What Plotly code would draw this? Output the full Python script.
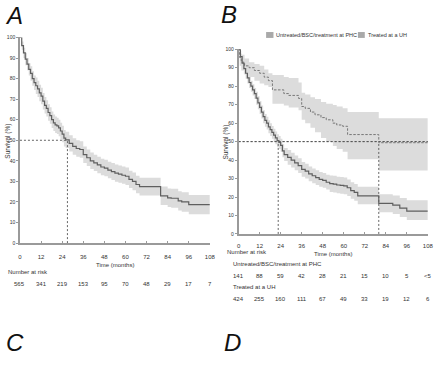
import plotly.graph_objects as go

# ---------------- data ----------------
tick_months = [0, 12, 24, 36, 48, 60, 72, 84, 96, 108]
y_ticks = [0, 10, 20, 30, 40, 50, 60, 70, 80, 90, 100]

# Panel A: overall survival
a_time = [0, 1, 2, 3, 4, 5, 6, 7, 8, 9, 10, 11, 12, 13, 14, 15, 16, 17, 18, 19, 20, 21, 22, 23, 24, 25, 26,
          28, 30, 32, 34, 36, 38, 40, 42, 44, 46, 48, 50, 52, 54, 56, 58, 60, 62, 64, 66, 68,
          80, 84, 86, 90, 92, 96, 108]
a_surv = [100, 96, 92.5, 89.5, 87, 84.5, 82.5, 80, 78, 76.5, 75, 73, 71.5, 69, 67, 65.5, 63.5, 62, 60, 58.5, 57.5, 57, 56, 54.5, 53, 51, 50.2,
          48.5, 47, 46, 45.5, 43, 41.5, 40, 39, 38, 37, 36.5, 35.5, 34.8, 34, 33.5, 33, 32.5, 31, 30, 28.5, 27.5,
          23, 22, 21.8, 20.5, 20, 18.7, 18.7]
a_low = [100, 94, 90, 86.5, 84, 81.5, 79, 76.5, 74.5, 72.5, 71, 69, 67.5, 65, 63, 61.5, 59.5, 58, 56, 54.5, 53.5, 53, 52, 50.5, 49, 47, 46.2,
         44.5, 43, 42, 41.5, 39, 37.5, 36, 35, 34, 33, 32.5, 31.5, 30.7, 29.8, 29.3, 28.8, 28.2, 26.8, 25.7, 24.2, 23.2,
         18.5, 17.5, 17.2, 15.8, 15.3, 14, 14]
a_up = [100, 98, 95, 92.5, 90, 87.5, 86, 83.5, 81.5, 80.5, 79, 77, 75.5, 73, 71, 69.5, 67.5, 66, 64, 62.5, 61.5, 61, 60, 58.5, 57, 55, 54.2,
        52.5, 51, 50, 49.5, 47, 45.5, 44, 43, 42, 41, 40.5, 39.5, 38.9, 38.2, 37.7, 37.2, 36.8, 35.2, 34.3, 32.8, 31.8,
        27.5, 26.5, 26.4, 25.2, 24.7, 23.4, 23.4]
a_median = 27
a_risk = ["565", "341", "219", "153", "95", "70", "48", "29", "17", "7"]

# Panel B: Treated at a UH (solid)
uh_time = [0, 1, 2, 3, 4, 5, 6, 7, 8, 9, 10, 11, 12, 13, 14, 15, 16, 17, 18, 19, 20, 21, 22, 23, 24, 25, 26,
           28, 30, 32, 34, 36, 38, 40, 42, 44, 46, 48, 50, 52, 54, 56, 58, 60, 62, 64, 66, 68,
           80, 88, 92, 96, 108]
uh_surv = [100, 96, 92.5, 89.5, 87, 84.5, 82, 80, 78, 76, 73.5, 71, 68.5, 66, 63.5, 61.5, 60, 58, 56.5, 55, 53.5, 52, 50.5, 49.5, 48, 45, 43,
           41.5, 40, 38.5, 37, 35, 34, 32.5, 31.5, 30.5, 29.5, 29, 28, 27.2, 27, 26.5, 26.3, 26, 25, 23.5, 22.5, 20.6,
           16.5, 15.6, 14, 12.4, 12.4]
uh_low = [100, 94.5, 90, 86.5, 84, 81.5, 79, 77, 75, 73, 70, 67.5, 65, 62.5, 60, 58, 56.5, 54.5, 53, 51.5, 50, 48.5, 47, 46, 44.5, 41.5, 39.5,
          37.5, 36, 34.5, 33, 31, 30, 28.5, 27.5, 26.5, 25.5, 25, 24, 22.7, 22.5, 22, 21.8, 21.5, 20.5, 19, 18, 16.1,
          11.7, 10.8, 9.2, 7.6, 7.6]
uh_up = [100, 97.5, 95, 92.5, 90, 87.5, 85, 83, 81, 79, 77, 74.5, 72, 69.5, 67, 65, 63.5, 61.5, 60, 58.5, 57, 55.5, 54, 53, 51.5, 48.5, 46.5,
         45.5, 44, 42.5, 41, 39, 38, 36.5, 35.5, 34.5, 33.5, 33, 32, 31.7, 31.5, 31, 30.8, 30.5, 29.5, 28, 27, 25.5,
         21.5, 20.8, 19.5, 18.3, 18.3]
uh_median = 22.6
uh_risk = ["424", "255", "160", "111", "67", "49", "33", "19", "12", "6"]

# Panel B: Untreated/BSC/treatment at PHC (dashed)
phc_time = [0, 0.6, 1.5, 3.4, 6, 9, 12, 14.6, 17, 19.3, 25.8, 28.6, 34.2, 36, 38, 41, 43.6, 47, 50, 53.8, 56, 59.4, 62.2, 80, 108]
phc_surv = [100, 95.5, 93, 91, 90, 88.5, 87, 84.9, 83, 78, 76, 75, 73.4, 69, 68, 66, 64.5, 63, 61.8, 60, 59, 58.3, 53.8, 49.4, 49.4]
phc_low = [100, 91, 88.5, 86.5, 85, 83, 81.5, 80.5, 79.5, 70.5, 69.5, 68.5, 67, 61.8, 60, 57.5, 55, 52, 50, 47.6, 46, 44.5, 40.5, 34.3, 34.3]
phc_up = [100, 99, 97, 95, 93, 92, 91, 89, 87, 86, 85, 84.5, 82, 76.5, 75.5, 74, 73, 71.5, 70.5, 69.8, 69, 68, 66, 62.7, 62.7]
phc_median = 80
phc_risk = ["141", "88", "59", "42", "28", "21", "15", "10", "5", "<5"]

legend_labels = ["Untreated/BSC/treatment at PHC", "Treated at a UH"]

# ---------------- styling ----------------
W, H = 440, 375
FONT = "Liberation Sans, Arial, sans-serif"
BAND = "#dcdcdc"
CURVE = "#5f5f5f"
AXIS = "#9a9a9a"
TXT = "#333333"
REF = "#555555"


def px(x):
    return x / W


def py(y):
    return 1 - y / H


fig = go.Figure()


def add_band(t, lo, hi, xa, ya):
    fig.add_trace(go.Scatter(x=t, y=lo, mode="lines", line=dict(width=0, shape="hv"),
                             xaxis=xa, yaxis=ya, showlegend=False, hoverinfo="skip"))
    fig.add_trace(go.Scatter(x=t, y=hi, mode="lines", line=dict(width=0, shape="hv"),
                             fill="tonexty", fillcolor=BAND,
                             xaxis=xa, yaxis=ya, showlegend=False, hoverinfo="skip"))


def add_curve(t, s, xa, ya, dash, color=CURVE, width=1.2):
    fig.add_trace(go.Scatter(x=t, y=s, mode="lines",
                             line=dict(width=width, shape="hv", color=color, dash=dash),
                             xaxis=xa, yaxis=ya, showlegend=False))


def add_median(m, xa, ya, hx_end):
    ref_line = dict(color=REF, width=0.9, dash="2px,2px")
    fig.add_trace(go.Scatter(x=[0, hx_end], y=[50, 50], mode="lines", line=ref_line,
                             xaxis=xa, yaxis=ya, showlegend=False, hoverinfo="skip"))
    fig.add_trace(go.Scatter(x=[m, m], y=[0, 50], mode="lines", line=ref_line,
                             xaxis=xa, yaxis=ya, showlegend=False, hoverinfo="skip"))


# Panel A
add_band(a_time, a_low, a_up, "x", "y")
add_median(a_median, "x", "y", a_median)
add_curve(a_time, a_surv, "x", "y", "solid")
# Panel B
add_band(phc_time, phc_low, phc_up, "x2", "y2")
add_band(uh_time, uh_low, uh_up, "x2", "y2")
add_median(uh_median, "x2", "y2", 108)
add_median(phc_median, "x2", "y2", 108)
add_curve(phc_time, phc_surv, "x2", "y2", "2.5px,1.5px", color="#777777", width=1.0)
add_curve(uh_time, uh_surv, "x2", "y2", "solid")

common_x = dict(range=[0, 108], tickvals=tick_months, ticks="inside", ticklen=2, tickcolor=AXIS,
                showline=True, linecolor=AXIS, linewidth=1.5, showgrid=False, zeroline=False,
                tickfont=dict(family=FONT, size=6, color=TXT), fixedrange=True)
common_y = dict(range=[0, 100], tickvals=y_ticks, ticks="outside", ticklen=2, tickcolor=AXIS,
                showline=True, linecolor=AXIS, linewidth=1.5, showgrid=False, zeroline=False,
                tickfont=dict(family=FONT, size=5, color=TXT), fixedrange=True)

fig.update_layout(
    width=W, height=H, margin=dict(l=0, r=0, t=0, b=0),
    paper_bgcolor="white", plot_bgcolor="white", showlegend=False,
    xaxis=dict(domain=[px(18.3), px(211.7)], anchor="y", ticklabelstandoff=7, **common_x),
    yaxis=dict(domain=[py(244), py(35)], anchor="x", ticklabelstandoff=0, **common_y),
    xaxis2=dict(domain=[px(241), px(433.7)], anchor="y2", ticklabelstandoff=5, **common_x),
    yaxis2=dict(domain=[py(234.7), py(47)], anchor="x2", ticklabelstandoff=0, **common_y),
)

ann = []


def text(x, y, s, size=6, xanchor="left", xref="paper", angle=0):
    ann.append(dict(x=x if xref != "paper" else px(x), y=py(y), xref=xref, yref="paper",
                    text=s, showarrow=False, xanchor=xanchor, yanchor="middle", textangle=angle,
                    font=dict(family=FONT, size=size, color=TXT)))


# Panel letters
for letter, lx, ly in [("A", 1, 13), ("B", 221, 12), ("C", 2, 345), ("D", 224, 345)]:
    ann.append(dict(x=px(lx), y=py(ly), xref="paper", yref="paper", text="<i>%s</i>" % letter,
                    showarrow=False, xanchor="left", yanchor="middle",
                    font=dict(family=FONT, size=24, color="#111111")))

# axis titles
text(6, 140, "Survival (%)", size=6.5, xanchor="center", angle=-90)
text(228, 141, "Survival (%)", size=6.5, xanchor="center", angle=-90)
text(115, 266, "Time (months)", size=6, xanchor="center")
text(337, 255, "Time (months)", size=6, xanchor="center")

# numbers at risk
text(4, 273, "Number at risk")
for t, v in zip(tick_months, a_risk):
    text(t, 286, v, xanchor="center", xref="x")
text(227, 253, "Number at risk")
text(233, 265, legend_labels[0])
for t, v in zip(tick_months, phc_risk):
    text(t, 277, v, xanchor="center", xref="x2")
text(233, 289, legend_labels[1])
for t, v in zip(tick_months, uh_risk):
    text(t, 301, v, xanchor="center", xref="x2")

# legend
shapes = []
for (x0, x1), lab in zip([(269, 276.5), (362.5, 369.5)], legend_labels):
    shapes.append(dict(type="rect", xref="paper", yref="paper", x0=px(x0), x1=px(x1), y0=py(35.5), y1=py(29.5),
                       fillcolor="#a9a9a9", line=dict(width=0)))
    text(x1 + 1, 32.5, lab, size=5.5)

fig.update_layout(annotations=ann, shapes=shapes)
fig.write_html("out.html", post_script="document.body.style.margin='0';",
               config={"displayModeBar": False})
